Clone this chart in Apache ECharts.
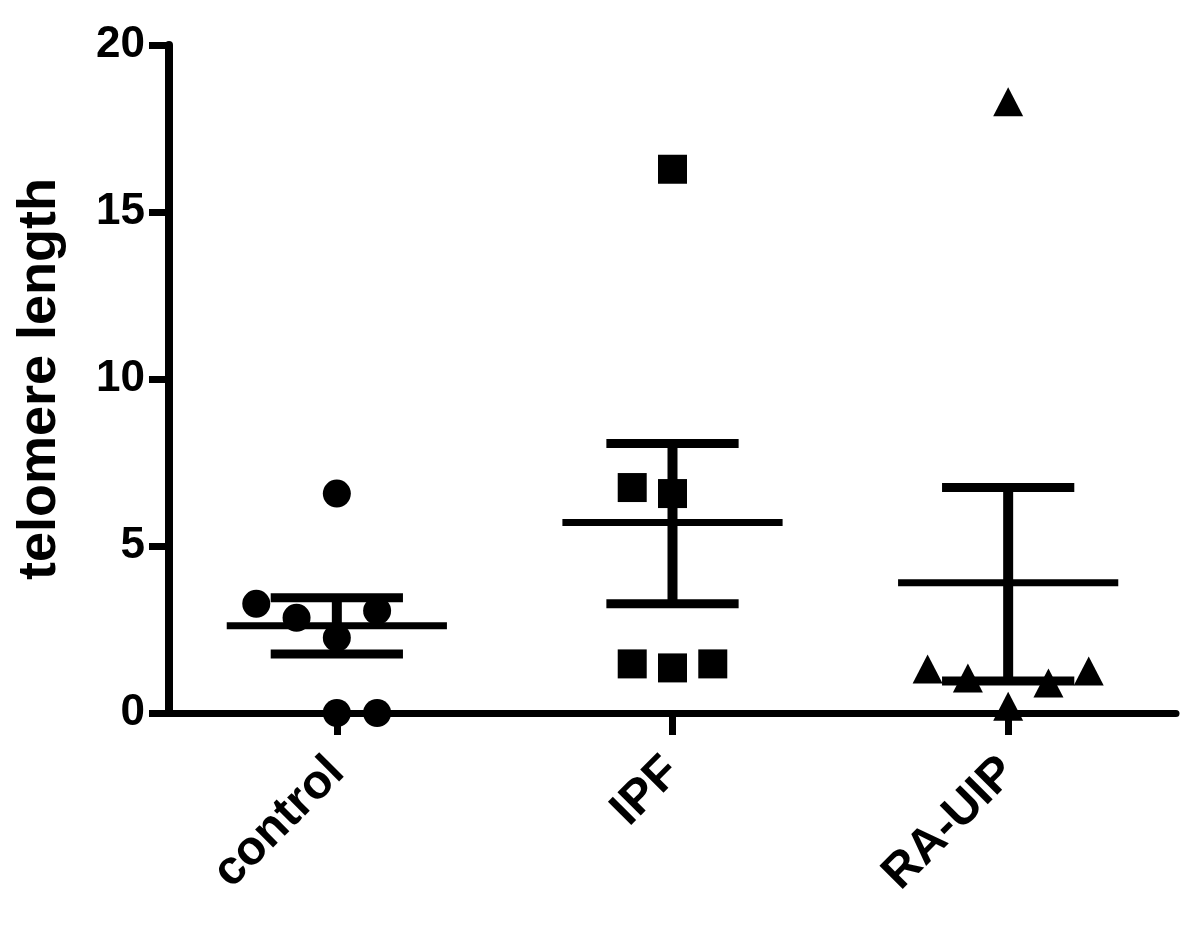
<!DOCTYPE html>
<html>
<head>
<meta charset="utf-8">
<script src="https://cdn.jsdelivr.net/npm/echarts@6/dist/echarts.min.js"></script>
<style>html,body{margin:0;padding:0;background:#fff}#c{width:1200px;height:938px}</style>
</head>
<body>
<div id="c"></div>
<script>
// Categories and tick labels
var categories = ['control', 'IPF', 'RA-UIP'];
var yTicks = [0, 5, 10, 15, 20];

// Individual values
var controlValues = [6.57, 3.27, 2.85, 3.06, 2.25, 0, 0];
var ipfValues = [16.28, 6.75, 6.57, 1.47, 1.35, 1.47];
var raUipValues = [18.3, 1.32, 1.05, 0.9, 1.26, 0.2];

// Horizontal scatter offsets (fraction of category band) as drawn in the picture
var controlJitter = [0, -0.24, -0.12, 0.12, 0, 0, 0.12];
var ipfJitter = [0, -0.12, 0, -0.12, 0, 0.12];
var raUipJitter = [0, -0.24, -0.12, 0.12, 0.24, 0];

// Mean and error bar ends
var means = [2.61, 5.70, 3.90];
var lowers = [1.77, 3.27, 0.96];
var uppers = [3.45, 8.07, 6.75];

function pts(ci, vals, jit) {
  return vals.map(function (v, i) { return [ci + 0.5 + jit[i], v]; });
}
var errData = categories.map(function (c, i) { return [i + 0.5, means[i], lowers[i], uppers[i]]; });

var FONT = 'Liberation Sans, Arial, sans-serif';
var chart = echarts.init(document.getElementById('c'), null, {renderer: 'canvas'});

var option = {
  backgroundColor: '#fff',
  animation: false,
  grid: {left: 169, right: 24, top: 45, bottom: 225, containLabel: false},
  xAxis: [{
    type: 'category',
    data: categories,
    boundaryGap: true,
    axisLine: {show: true, lineStyle: {color: '#000', width: 7}},
    axisTick: {show: true, alignWithLabel: true, length: 22, lineStyle: {color: '#000', width: 7}},
    axisLabel: {show: true, rotate: 45, margin: 52, color: '#000', fontSize: 48, fontWeight: 'bold', fontFamily: FONT},
    splitLine: {show: false}
  }, {
    type: 'value', min: 0, max: 3, show: false, position: 'bottom'
  }],
  yAxis: {
    type: 'value', min: 0, max: 20, interval: 5,
    name: 'telomere length', nameLocation: 'middle', nameGap: 102,
    nameTextStyle: {color: '#000', fontSize: 54, fontWeight: 'bold', fontFamily: FONT},
    axisLine: {show: true, lineStyle: {color: '#000', width: 8}},
    axisTick: {show: true, length: 20, lineStyle: {color: '#000', width: 7}},
    axisLabel: {margin: 24, color: '#000', fontSize: 44, fontWeight: 'bold', fontFamily: FONT,
      formatter: function (v) { return yTicks.indexOf(v) >= 0 ? String(v) : ''; }},
    splitLine: {show: false}
  },
  series: [{
    type: 'custom',
    xAxisIndex: 1,
    data: errData,
    clip: false,
    z: 3,
    renderItem: function (params, api) {
      var x = api.value(0);
      var meanHalf = api.size([0.328, 0])[0];
      var capHalf = api.size([0.197, 0])[0];
      var m = api.coord([x, api.value(1)]);
      var lo = api.coord([x, api.value(2)]);
      var hi = api.coord([x, api.value(3)]);
      return {
        type: 'group',
        children: [
          {type: 'line', shape: {x1: lo[0], y1: lo[1], x2: hi[0], y2: hi[1]}, style: {stroke: '#000', lineWidth: 10}},
          {type: 'line', shape: {x1: m[0] - meanHalf, y1: m[1], x2: m[0] + meanHalf, y2: m[1]}, style: {stroke: '#000', lineWidth: 7}},
          {type: 'line', shape: {x1: hi[0] - capHalf, y1: hi[1], x2: hi[0] + capHalf, y2: hi[1]}, style: {stroke: '#000', lineWidth: 9}},
          {type: 'line', shape: {x1: lo[0] - capHalf, y1: lo[1], x2: lo[0] + capHalf, y2: lo[1]}, style: {stroke: '#000', lineWidth: 9}}
        ]
      };
    }
  }, {
    type: 'scatter', xAxisIndex: 1, clip: false, z: 4,
    symbol: 'circle', symbolSize: 28, itemStyle: {color: '#000', opacity: 1},
    data: pts(0, controlValues, controlJitter)
  }, {
    type: 'scatter', xAxisIndex: 1, clip: false, z: 4,
    symbol: 'rect', symbolSize: 29, itemStyle: {color: '#000', opacity: 1},
    data: pts(1, ipfValues, ipfJitter)
  }, {
    type: 'scatter', xAxisIndex: 1, clip: false, z: 4,
    symbol: 'triangle', symbolSize: [30, 29], itemStyle: {color: '#000', opacity: 1},
    data: pts(2, raUipValues, raUipJitter)
  }]
};
chart.setOption(option);
</script>
</body>
</html>
